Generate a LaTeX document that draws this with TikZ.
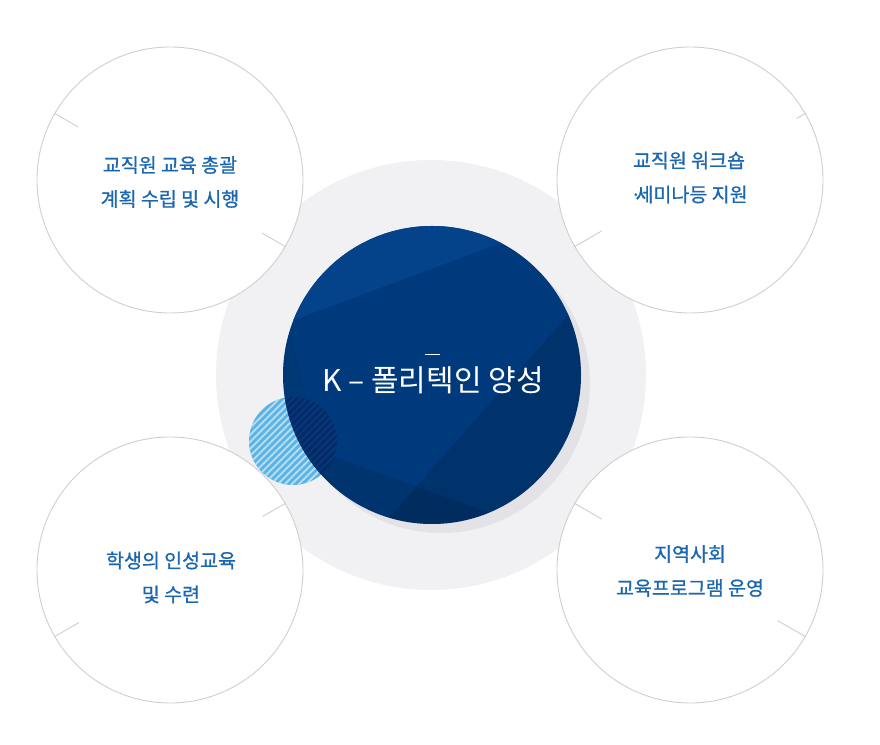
\documentclass[tikz,border=0pt]{standalone}
\usepackage{fontspec}
\newfontfamily\kr{Noto Sans CJK KR}
\newfontfamily\krb{Noto Sans CJK KR}[FakeBold=0.8]
\definecolor{ringbg}{HTML}{F1F1F3}
\definecolor{shadowc}{HTML}{E3E3E7}
\definecolor{ringline}{HTML}{CFCFCF}
\definecolor{navy}{HTML}{003A7C}
\definecolor{navytop}{HTML}{04428A}
\definecolor{hatchblue}{HTML}{5AB3E3}
\definecolor{stripec}{HTML}{B2DCF4}
\definecolor{hatchdark}{HTML}{00296A}
\definecolor{txtblue}{HTML}{1A66B0}
\tikzset{
  outer/.style={circle, draw=ringline, line width=0.9pt, fill=white, minimum size=266pt, inner sep=0pt},
  tick/.style={draw=ringline, line width=0.9pt},
  label/.style={font=\krb\fontsize{19.5}{34}\selectfont, text=txtblue, align=center, inner sep=0pt},
  title/.style={font=\kr\fontsize{30}{30}\selectfont, text=white, inner sep=0pt},
  stripe/.style={draw=stripec, line width=1.9pt},
}
\begin{document}
\begin{tikzpicture}[x=1pt,y=1pt]
\useasboundingbox (0,0) rectangle (880,744);
\fill[white] (0,0) rectangle (880,744);
% big background ring
\node[circle, fill=ringbg, minimum size=430pt, inner sep=0pt] (ring) at (431,369) {};
% outer circles
\node[outer] (tl) at (170,564) {};
\node[outer] (tr) at (690,564) {};
\node[outer] (bl) at (170,174) {};
\node[outer] (br) at (690,174) {};
% ticks
\draw[tick] (tl.150) -- ([shift={(150:106)}]tl.center);
\draw[tick] (tl.-30) -- ([shift={(-30:106)}]tl.center);
\draw[tick] (tr.30) -- ([shift={(30:123)}]tr.center);
\draw[tick] (tr.210) -- ([shift={(210:102)}]tr.center);
\draw[tick] (bl.30) -- ([shift={(30:107)}]bl.center);
\draw[tick] (bl.210) -- ([shift={(210:105)}]bl.center);
\draw[tick] (br.150) -- ([shift={(150:102)}]br.center);
\draw[tick] (br.-30) -- ([shift={(-30:101)}]br.center);
% shadow
\node[circle, fill=shadowc, minimum size=298pt, inner sep=0pt] (shadow) at (441,360) {};
% hatched circle
\begin{scope}
  \clip (293,303) circle (44);
  \fill[hatchblue] (293,303) circle (44);
  \foreach \i in {-140,-133,...,140} \draw[stripe] (243+\i,253) -- ++(100,100);
\end{scope}
\node[circle, minimum size=88pt, inner sep=0pt] (hatch) at (293,303) {};
% core circle
\node[circle, fill=navy, minimum size=298pt, inner sep=0pt] (core) at (432,369) {};
\begin{scope}
  \clip (432,369) circle (149);
  \fill[navytop] (270,415) -- (600,538) -- (600,560) -- (270,560) -- cycle;
  \fill[black, opacity=0.05] (280,414) -- (292,401) -- (322,290) -- (280,290) -- cycle;
  \fill[black, opacity=0.13] (380,216) -- (600,465) -- (600,150) -- (380,150) -- cycle;
  \fill[black, opacity=0.10] (280,307) -- (600,191) -- (600,150) -- (280,150) -- cycle;
  \fill[hatchdark, opacity=0.8] (293,303) circle (44);
  \begin{scope}
    \clip (293,303) circle (44);
    \foreach \i in {-140,-133,...,140} \draw[draw=white, line width=1.9pt, opacity=0.05] (243+\i,253) -- ++(100,100);
  \end{scope}
\end{scope}
% title
\node[title] (t) at (433,364) {K – 폴리텍인 양성};
\coordinate (m1) at (425,390);
\coordinate (m2) at (440,390);
\draw[white, line width=0.8pt] (m1) -- (m2);
% labels
\node[label] (ltl) at (170,562) {교직원 교육 총괄\\계획 수립 및 시행};
\node[label] (ltr) at (689,566.5) {교직원 워크숍\\·\kern-0.3em세미나등 지원};
\node[label] (lbl) at (171,166.5) {학생의 인성교육\\및 수련};
\node[label] (lbr) at (690,173) {지역사회\\교육프로그램 운영};
\end{tikzpicture}
\end{document}
